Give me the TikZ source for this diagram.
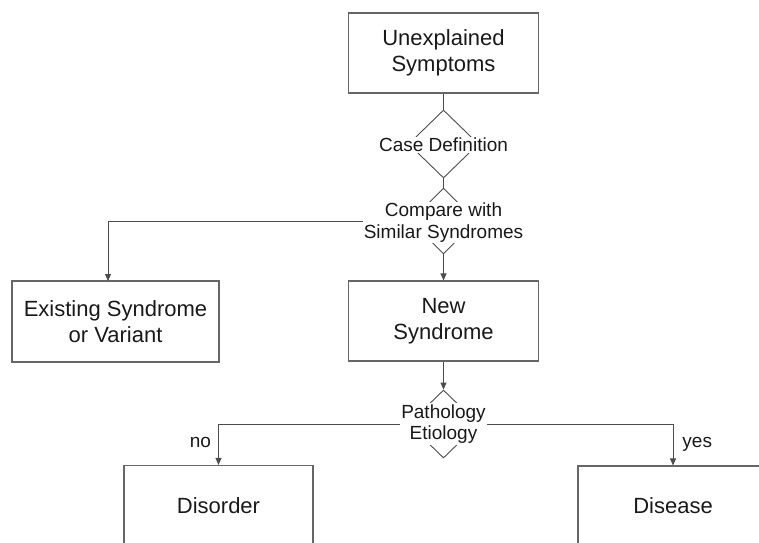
\documentclass[tikz,border=0pt]{standalone}
\usepackage{fontspec}
\setmainfont{Liberation Sans}
\usetikzlibrary{shapes.geometric,arrows.meta}
\begin{document}
\begin{tikzpicture}[x=1pt,y=-1pt,
 box/.style={draw=black!60, line width=1.1pt, minimum width=190pt, minimum height=80pt, inner sep=0pt, align=center, font=\fontsize{22}{26}\selectfont, text=black!90},
 dia/.style={draw=black!70, line width=0.9pt, diamond, inner sep=0pt, minimum width=70pt, minimum height=68pt},
 dtext/.style={fill=white, inner sep=1pt, align=center, font=\fontsize{19}{21.5}\selectfont, text=black!90},
 conn/.style={draw=black!70, line width=0.9pt},
 arr/.style={conn, -{Triangle[length=7pt,width=6pt]}},
 lab/.style={font=\fontsize{19}{21}\selectfont, text=black!90, inner sep=0pt}]
\useasboundingbox (0,0) rectangle (759,542);
\node[box] (top) at (443.5,53) {Unexplained\\Symptoms};
\node[dia] (d1) at (443.5,144) {};
\node[dia, minimum width=66pt, minimum height=66pt] (d2) at (443.5,221) {};
\node[box] (new) at (443.5,321) {New\\Syndrome};
\node[box, minimum width=207pt, minimum height=81pt] (exist) at (115.5,321.5) {Existing Syndrome\\or Variant};
\node[dia] (d3) at (443.5,424) {};
\node[box, minimum width=189pt] (disorder) at (218.5,505.5) {Disorder};
\node[box] (disease) at (673,506) {Disease};
\coordinate (ein) at (108,281);
\draw[conn] (top.south) -- (d1.north);
\draw[conn] (d1.south) -- (d2.north);
\draw[arr] (d2.south) -- (new.north);
\draw[arr] (d2.west) -| (ein);
\draw[arr] (new.south) -- (d3.north);
\draw[arr] (d3.west) -| (disorder.north) node[pos=0.73, lab, anchor=east, xshift=-7pt] {no};
\draw[arr] (d3.east) -| (disease.north) node[pos=0.75, lab, anchor=west, xshift=9pt] {yes};
\node[dtext] (t1) at (443.5,145) {Case Definition};
\node[dtext] (t2) at (443.5,222.5) {Compare with\\Similar Syndromes};
\node[dtext] (t3) at (443.5,424) {Pathology\\Etiology};
\end{tikzpicture}
\end{document}
